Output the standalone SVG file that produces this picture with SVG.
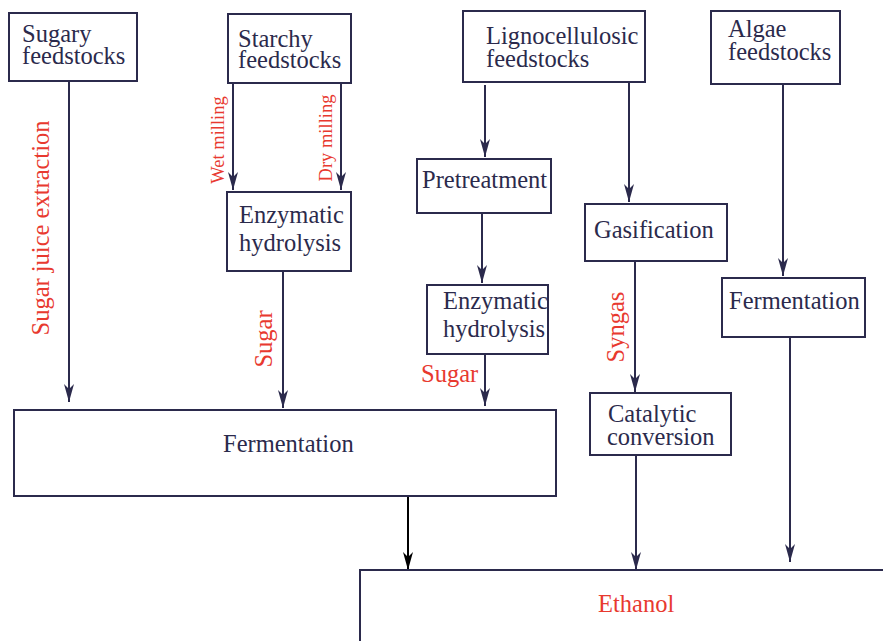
<svg xmlns="http://www.w3.org/2000/svg" width="883" height="641" viewBox="0 0 883 641">
  <style>
    .box { fill: #ffffff; stroke: #2b2a4c; stroke-width: 2; }
    .lbl { font-family: "Liberation Serif", "Times New Roman", serif; font-size: 24.5px; fill: #2b2a4c; }
    .mid { text-anchor: middle; }
    .red { font-family: "Liberation Serif", "Times New Roman", serif; fill: #e8392f; }
    .con { stroke: #2b2a4c; stroke-width: 2; fill: none; }
  </style>
  <defs>
    <marker id="ah" markerUnits="userSpaceOnUse" markerWidth="18" markerHeight="12" viewBox="-18 -6 18 12" refX="0" refY="0" orient="auto">
      <path d="M0,0 L-18,-5 L-13,0 L-18,5 Z" fill="#2b2a4c"/>
    </marker>
    <marker id="ahk" markerUnits="userSpaceOnUse" markerWidth="18" markerHeight="12" viewBox="-18 -6 18 12" refX="0" refY="0" orient="auto">
      <path d="M0,0 L-18,-5 L-13,0 L-18,5 Z" fill="#000000"/>
    </marker>
  </defs>

  <!-- connectors and their labels -->
  <g id="connectors">
    <line class="con" x1="69" y1="81" x2="69" y2="402" marker-end="url(#ah)"/>
    <line class="con" x1="233" y1="83" x2="233" y2="190" marker-end="url(#ah)"/>
    <line class="con" x1="341" y1="83" x2="341" y2="190" marker-end="url(#ah)"/>
    <line class="con" x1="283" y1="271" x2="283" y2="408" marker-end="url(#ah)"/>
    <line class="con" x1="485" y1="85" x2="485" y2="157" marker-end="url(#ah)"/>
    <line class="con" x1="629" y1="83" x2="629" y2="202" marker-end="url(#ah)"/>
    <line class="con" x1="482" y1="213" x2="482" y2="283" marker-end="url(#ah)"/>
    <line class="con" x1="485" y1="355" x2="485" y2="406" marker-end="url(#ah)"/>
    <line class="con" x1="635" y1="261" x2="635" y2="392" marker-end="url(#ah)"/>
    <line class="con" x1="783" y1="84" x2="783" y2="276" marker-end="url(#ah)"/>
    <line x1="408" y1="496" x2="408" y2="570" stroke="#000000" stroke-width="2" marker-end="url(#ahk)"/>
    <line class="con" x1="636" y1="455" x2="636" y2="570" marker-end="url(#ah)"/>
    <line class="con" x1="790" y1="337" x2="790" y2="562" marker-end="url(#ah)"/>

    <text class="red" font-size="24.5" transform="translate(49,228) rotate(-90)" text-anchor="middle">Sugar juice extraction</text>
    <text class="red" font-size="18.5" transform="translate(224,140) rotate(-90)" text-anchor="middle">Wet milling</text>
    <text class="red" font-size="18.5" transform="translate(332,138) rotate(-90)" text-anchor="middle">Dry milling</text>
    <text class="red" font-size="24.5" transform="translate(272,339) rotate(-90)" text-anchor="middle">Sugar</text>
    <text class="red" font-size="24.5" x="421" y="382">Sugar</text>
    <text class="red" font-size="24.5" transform="translate(624,327) rotate(-90)" text-anchor="middle">Syngas</text>
  </g>

  <g id="sugary">
    <rect class="box" x="9" y="13" width="128" height="68"/>
    <text class="lbl" x="22" y="42">Sugary</text>
    <text class="lbl" x="22" y="64">feedstocks</text>
  </g>
  <g id="starchy">
    <rect class="box" x="228" y="14" width="123" height="69"/>
    <text class="lbl" x="238" y="47">Starchy</text>
    <text class="lbl" x="238" y="68">feedstocks</text>
  </g>
  <g id="lignocellulosic">
    <rect class="box" x="463" y="11" width="182" height="71"/>
    <text class="lbl" x="486" y="44">Lignocellulosic</text>
    <text class="lbl" x="486" y="67">feedstocks</text>
  </g>
  <g id="algae">
    <rect class="box" x="711" y="11" width="129" height="73"/>
    <text class="lbl" x="728" y="37">Algae</text>
    <text class="lbl" x="728" y="60">feedstocks</text>
  </g>
  <g id="enzymatic1">
    <rect class="box" x="227" y="192" width="124" height="79"/>
    <text class="lbl" x="239" y="223">Enzymatic</text>
    <text class="lbl" x="239" y="251">hydrolysis</text>
  </g>
  <g id="pretreatment">
    <rect class="box" x="417" y="159" width="134" height="54"/>
    <text class="lbl" x="422" y="188">Pretreatment</text>
  </g>
  <g id="enzymatic2">
    <rect class="box" x="427" y="285" width="121" height="69"/>
    <text class="lbl" x="443" y="309">Enzymatic</text>
    <text class="lbl" x="443" y="337">hydrolysis</text>
  </g>
  <g id="gasification">
    <rect class="box" x="585" y="204" width="142" height="57"/>
    <text class="lbl" x="594" y="238">Gasification</text>
  </g>
  <g id="fermentation-algae">
    <rect class="box" x="722" y="278" width="143" height="59"/>
    <text class="lbl" x="729" y="309">Fermentation</text>
  </g>
  <g id="catalytic">
    <rect class="box" x="590" y="393" width="141" height="62"/>
    <text class="lbl" x="608" y="422">Catalytic</text>
    <text class="lbl" x="607" y="445">conversion</text>
  </g>
  <g id="fermentation">
    <rect class="box" x="14" y="410" width="542" height="86"/>
    <text class="lbl" x="223" y="452">Fermentation</text>
  </g>
  <g id="ethanol">
    <rect class="box" x="360" y="570" width="560" height="100"/>
    <text class="red" font-size="24.5" x="598" y="612">Ethanol</text>
  </g>
</svg>
